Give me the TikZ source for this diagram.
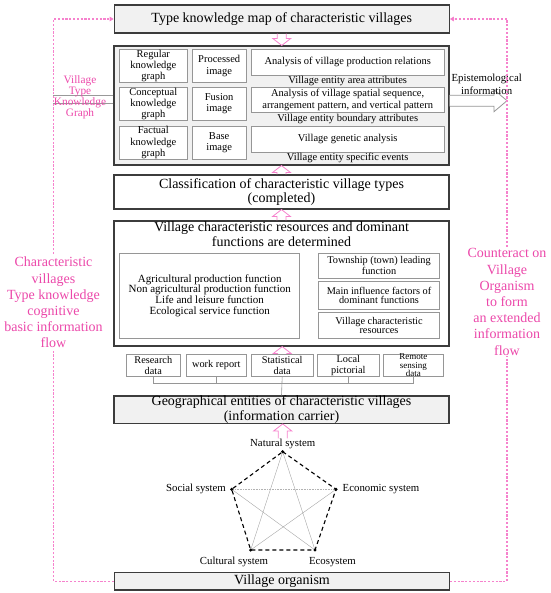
\documentclass[tikz,border=0pt]{standalone}
\usepackage{fontspec}
\setmainfont{Liberation Serif}
\usetikzlibrary{calc,arrows.meta}
\definecolor{pinkt}{RGB}{236,72,170}
\definecolor{pinkl}{RGB}{246,130,205}
\definecolor{boxgray}{RGB}{241,241,241}
\definecolor{edgec}{RGB}{60,60,60}
\definecolor{inedge}{RGB}{150,150,150}
\newcommand{\hup}[2]{\draw[hollowpink] let \p1=(#1),\p2=(#2) in (\x1-4.5pt,\y1) -- (\x1-4.5pt,\y2-7pt) -- (\x1-9pt,\y2-7pt) -- (\x1,\y2) -- (\x1+9pt,\y2-7pt) -- (\x1+4.5pt,\y2-7pt) -- (\x1+4.5pt,\y1);}
\newcommand{\hdown}[2]{\draw[hollowpink] let \p1=(#1),\p2=(#2) in (\x1-4.5pt,\y1) -- (\x1-4.5pt,\y2+7pt) -- (\x1-9pt,\y2+7pt) -- (\x1,\y2) -- (\x1+9pt,\y2+7pt) -- (\x1+4.5pt,\y2+7pt) -- (\x1+4.5pt,\y1);}
\begin{document}
\begin{tikzpicture}[x=1pt,y=-1pt,
  bigbox/.style={draw=edgec, line width=1.1pt, inner sep=0pt, align=center, minimum width=335pt, fill=white},
  graybox/.style={bigbox, fill=boxgray},
  smallbox/.style={draw=inedge, line width=0.6pt, fill=white, inner sep=0pt, align=center},
  fbig/.style={font=\fontsize{14}{14.5}\selectfont},
  fsmall/.style={font=\fontsize{10.5}{11.3}\selectfont},
  ftight/.style={font=\fontsize{10.3}{9.2}\selectfont},
  flist/.style={font=\fontsize{11}{10.8}\selectfont},
  fdata/.style={font=\fontsize{10.3}{10.8}\selectfont},
  lab/.style={font=\fontsize{10.8}{11}\selectfont, inner sep=0pt},
  hollowpink/.style={draw=pinkl, line width=0.8pt, line join=miter},
  hollowgray/.style={draw=inedge, line width=0.8pt, line join=miter, fill=white},
  pinkloop/.style={draw=pinkl, line width=1.1pt, dash pattern=on 2.2pt off 1.6pt, -{Triangle[length=4pt,width=4.5pt,fill=pinkt]}},
  sidetext/.style={text=pinkt, fill=white, align=center, inner sep=1pt, font=\fontsize{14}{16.2}\selectfont},
  pentdash/.style={draw=black, line width=1.1pt, dash pattern=on 4pt off 3pt},
  pentin/.style={draw=gray!70, line width=0.4pt},
  pentdot/.style={draw=gray!60, line width=0.7pt, dash pattern=on 0.8pt off 0.8pt},
  bus/.style={draw=inedge, line width=0.6pt}
]
\useasboundingbox (0,0) rectangle (550,593);

% main boxes
\node[graybox, fbig, minimum height=28pt] (title) at (281.75,19) {Type knowledge map of characteristic villages};
\node[graybox, minimum height=119pt] (box2) at (281.5,105.5) {};
\node[bigbox, fbig, minimum height=34pt] (box3) at (281.5,192) {Classification of characteristic village types\\(completed)};
\node[bigbox, minimum height=125pt] (box4) at (281.5,283.5) {};
\node[graybox, fbig, minimum height=26pt] (box5) at (281.5,409.7) {Geographical entities of characteristic villages\\(information carrier)};
\node[graybox, fbig, minimum height=17.6pt] (org) at (282,581.2) {Village organism};

% box2 content
\node[smallbox, fsmall, minimum width=68pt, minimum height=33pt] (kg1) at (153.3,66) {Regular\\knowledge\\graph};
\node[smallbox, fsmall, minimum width=68pt, minimum height=33pt] (kg2) at (153.3,104) {Conceptual\\knowledge\\graph};
\node[smallbox, fsmall, minimum width=68pt, minimum height=33pt] (kg3) at (153.3,142.7) {Factual\\knowledge\\graph};
\node[smallbox, fsmall, minimum width=53.7pt, minimum height=33pt] (im1) at (219.2,66) {Processed\\image};
\node[smallbox, fsmall, minimum width=53.7pt, minimum height=33pt] (im2) at (219.2,104) {Fusion\\image};
\node[smallbox, fsmall, minimum width=53.7pt, minimum height=33pt] (im3) at (219.2,142.7) {Base\\image};
\node[smallbox, fsmall, minimum width=193.3pt, minimum height=26.7pt] (an1) at (347.7,62.3) {Analysis of village production relations};
\node[smallbox, fsmall, minimum width=193.3pt, minimum height=25.4pt] (an2) at (347.7,100) {Analysis of village spatial sequence,\\arrangement pattern, and vertical pattern};
\node[smallbox, fsmall, minimum width=193.3pt, minimum height=26.3pt] (an3) at (347.7,139.2) {Village genetic analysis};
\node[fsmall, inner sep=0pt] (l1) at (347.7,81) {Village entity area attributes};
\node[fsmall, inner sep=0pt] (l2) at (347.7,119.3) {Village entity boundary attributes};
\node[fsmall, inner sep=0pt] (l3) at (347.7,157.7) {Village entity specific events};

% box4 content
\node[fbig, inner sep=0pt, align=center] (b4t) at (281.5,234.2) {Village characteristic resources and dominant\\functions are determined};
\node[smallbox, flist, minimum width=180pt, minimum height=85.3pt] (fl) at (209.7,295.7) {Agricultural production function\\Non agricultural production function\\Life and leisure function\\Ecological service function};
\node[smallbox, ftight, minimum width=121.4pt, minimum height=25.2pt] (fr1) at (379,265.6) {Township (town) leading\\function};
\node[smallbox, ftight, minimum width=121.4pt, minimum height=27.4pt] (fr2) at (379,295.4) {Main influence factors of\\dominant functions};
\node[smallbox, ftight, minimum width=121.4pt, minimum height=25.6pt] (fr3) at (379,325.5) {Village characteristic\\resources};

% data boxes
\node[smallbox, fdata, minimum width=54.7pt, minimum height=22.7pt] (d1) at (153.3,365.3) {Research\\data};
\node[smallbox, fdata, minimum width=60.7pt, minimum height=22.7pt] (d2) at (216.3,365.3) {work report};
\node[smallbox, fdata, minimum width=62.3pt, minimum height=22.7pt] (d3) at (282.2,365.3) {Statistical\\data};
\node[smallbox, fdata, minimum width=62pt, minimum height=22.7pt] (d4) at (348.3,365.3) {Local\\pictorial};
\node[smallbox, font=\fontsize{9}{8.3}\selectfont, minimum width=60pt, minimum height=22.7pt] (d5) at (413.3,365.3) {Remote\\sensing\\data};
\coordinate (busy) at (0,383.3);
\draw[bus] (d1.south) -- (d1.south |- busy) -- (d5.south |- busy) -- (d5.south);
\draw[bus] (d2.south) -- (d2.south |- busy);
\draw[bus] (d4.south) -- (d4.south |- busy);
\draw[bus] (d3.south) -- (box5.north);

% pentagon
\coordinate (N) at (282.7,451.7);
\coordinate (S) at (231.7,489.3);
\coordinate (E) at (336,489.3);
\coordinate (C) at (250.7,550);
\coordinate (Eco) at (315,550);
\draw[pentin] (N) -- (C) (N) -- (Eco) (S) -- (Eco) (E) -- (C);
\draw[pentdot] (S) -- (E);
\draw[pentdash] (N) -- (E) -- (Eco) -- (C) -- (S) -- cycle;
\foreach \v in {N,S,E,C,Eco} \fill (\v) circle (1.7pt);
\node[lab] (nl) at (282.7,443.5) {Natural system};
\node[lab, anchor=east] (sl) at (226,489.3) {Social system};
\node[lab, anchor=west] (el) at (342.5,489.3) {Economic system};
\node[lab] (cl) at (234,561.8) {Cultural system};
\node[lab] (ecl) at (332.4,561.8) {Ecosystem};

% hollow pink arrows
\hdown{title.south}{box2.north}
\hup{box3.north}{box2.south}
\hup{box4.north}{box3.south}
\hup{d3.north}{box4.south}
\hup{nl.north}{box5.south}

% left double line and label
\coordinate (vk) at (53,99.2);
\draw[draw=gray!80, line width=0.6pt] ($(box2.west |- vk)+(0,-4.2)$) -- ($(vk)+(0,-4.2)$);
\draw[draw=gray!80, line width=0.6pt] ($(box2.west |- vk)+(0,4.3)$) -- ($(vk)+(0,4.3)$);

% epistemological arrow
\coordinate (ep) at (507,100.7);
\draw[hollowgray] let \p1=(box2.east |- ep), \p2=(ep) in (\x1,\y1+5.5pt) -- (\x2-13pt,\y1+5.5pt) -- (\x2-13pt,\y1+11pt) -- (\x2,\y1) -- (\x2-13pt,\y1-11pt) -- (\x2-13pt,\y1-5.5pt) -- (\x1,\y1-5.5pt);
\node[font=\fontsize{10.8}{12.5}\selectfont, align=center, inner sep=0pt] (eptxt) at (486.7,84.5) {Epistemological\\information};

% pink loop
\coordinate (lt) at (53.5,19);
\coordinate (rt) at (507,19);
\draw[pinkloop] (org.west) -| (lt) -- (title.west);
\draw[pinkloop] (org.east) -| (rt) -- (title.east);

\node[text=pinkt, align=center, inner sep=0pt, font=\fontsize{11.3}{9.7}\selectfont] (vtkg) at (80,97.5) {Village\\Type\\Knowledge\\Graph};
\node[sidetext] (lside) at (53.5,302.7) {Characteristic\\villages\\Type knowledge\\cognitive\\basic information\\flow};
\node[sidetext] (rside) at (507,302) {Counteract on\\Village\\Organism\\to form\\an extended\\information\\flow};
\end{tikzpicture}
\end{document}
